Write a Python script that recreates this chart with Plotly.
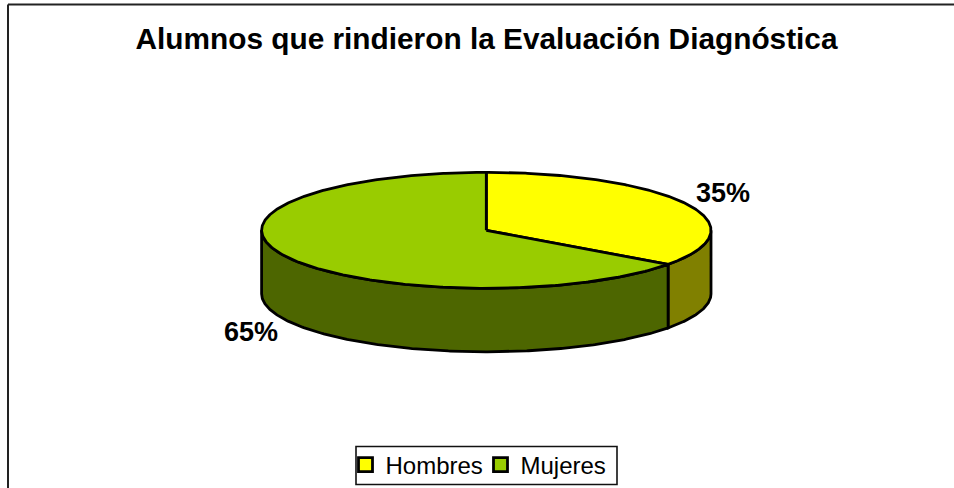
import numpy as np
import plotly.graph_objects as go

title = "Alumnos que rindieron la Evaluación Diagnóstica"
categories = ["Hombres", "Mujeres"]
values = [35, 65]
top_colors = ["#FFFF00", "#99CC00"]
side_colors = ["#808000", "#4D6600"]

W, H = 954, 488
cx, cy, rx, ry, depth = 486.3, 230.3, 224.7, 58, 63.5
OUT = "#000000"
LW = 2.8


def rim(a0, a1, dy=0.0):
    t = np.radians(np.linspace(a0, a1, max(2, int(abs(a1 - a0) * 2))))
    return cx + rx * np.sin(t), cy - ry * np.cos(t) + dy


fig = go.Figure()
total = sum(values)
start = 0.0
wedges = []
for name, v, tc, sc in zip(categories, values, top_colors, side_colors):
    end = start + 360.0 * v / total
    wedges.append((name, start, end, tc, sc))
    start = end

# Side walls (only the front half of the rim is visible)
for name, a0, a1, tc, sc in wedges:
    s0, s1 = max(a0, 90), min(a1, 270)
    if s1 > s0:
        xt, yt = rim(s0, s1)
        xb, yb = rim(s1, s0, depth)
        fig.add_trace(go.Scatter(
            x=np.r_[xt, xb, xt[0]], y=np.r_[yt, yb, yt[0]], mode="lines",
            fill="toself", fillcolor=sc, line=dict(color=OUT, width=LW),
            showlegend=False, hoverinfo="skip"))

# Top surfaces
for name, a0, a1, tc, sc in wedges:
    xt, yt = rim(a0, a1)
    fig.add_trace(go.Scatter(
        x=np.r_[cx, xt, cx], y=np.r_[cy, yt, cy], mode="lines",
        fill="toself", fillcolor=tc, line=dict(color=OUT, width=LW),
        showlegend=False, hoverinfo="skip"))

# Legend entries
for name, tc in zip(categories, top_colors):
    fig.add_trace(go.Scatter(
        x=[None], y=[None], mode="markers", name=name,
        marker=dict(symbol="square", size=14, color=tc, line=dict(color=OUT, width=2.8))))

fig.add_annotation(x=723, y=193, text=f"<b>{values[0]}%</b>", showarrow=False,
                   font=dict(size=27, color="black"))
fig.add_annotation(x=251, y=332, text=f"<b>{values[1]}%</b>", showarrow=False,
                   font=dict(size=27, color="black"))

# Chart frame: top and left edges fall within the picture
fig.add_shape(type="line", x0=8, x1=W, y0=4.5, y1=4.5, line=dict(color="#222222", width=2))
fig.add_shape(type="line", x0=8, x1=8, y0=4.5, y1=H, line=dict(color="#222222", width=2))
# Legend frame
fig.add_shape(type="rect", x0=356, x1=617, y0=446.5, y1=484.5, line=dict(color="#111111", width=1.6),
              fillcolor="white")

fig.update_layout(
    width=W, height=H, margin=dict(l=0, r=0, t=0, b=0),
    paper_bgcolor="white", plot_bgcolor="white",
    font=dict(family="Liberation Sans, Arial, sans-serif", color="black"),
    title=dict(text=f"<b>{title}</b>", x=486.5 / W, xanchor="center", y=1 - 39 / H, yanchor="middle",
               font=dict(size=29.8, color="black")),
    xaxis=dict(range=[0, W], visible=False, fixedrange=True),
    yaxis=dict(range=[H, 0], visible=False, fixedrange=True),
    legend=dict(orientation="h", x=345.5 / W, xanchor="left", y=1 - 465 / H, yanchor="middle",
                borderwidth=0, bgcolor="rgba(0,0,0,0)",
                font=dict(size=24, color="black"), itemwidth=30, traceorder="normal",
                entrywidth=90, entrywidthmode="pixels"),
)

fig.write_html("out.html", config={"displayModeBar": False},
               post_script="document.body.style.margin='0';document.body.style.overflow='hidden';")
